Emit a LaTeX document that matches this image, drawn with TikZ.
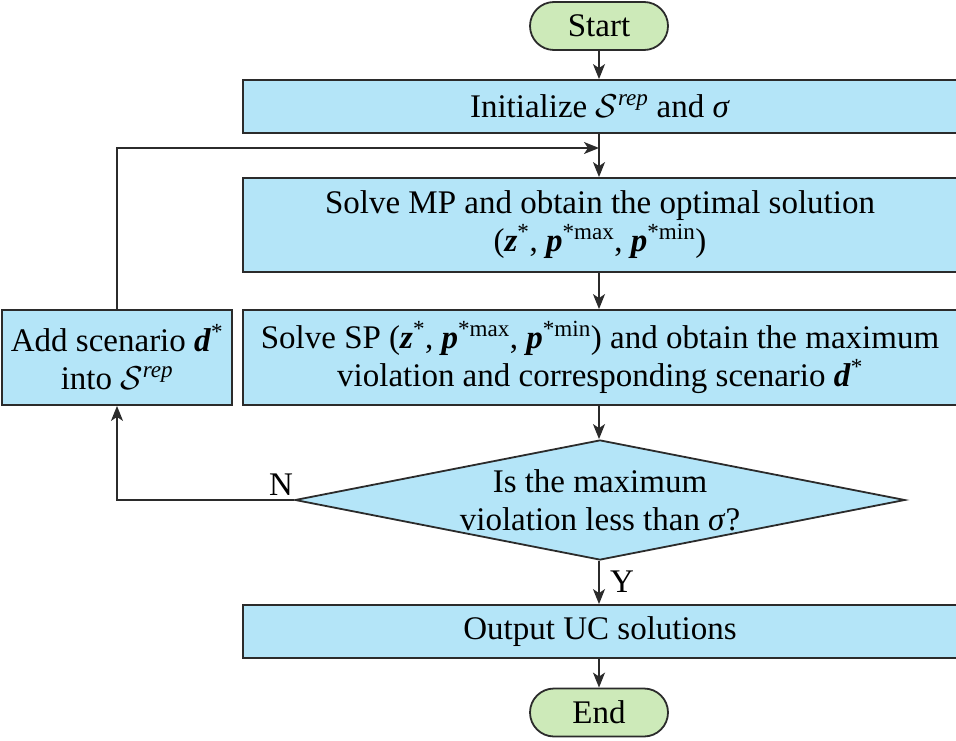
\documentclass[tikz,border=0pt]{standalone}
\usepackage{fix-cm}
\usepackage{fontspec}
\setmainfont{Liberation Serif}
\usetikzlibrary{arrows.meta,shapes.geometric}
\definecolor{boxblue}{RGB}{180,229,248}
\definecolor{pillgreen}{RGB}{205,234,185}
\definecolor{edge}{RGB}{43,43,43}
\newcommand{\bz}{\textbf{\textit{z}}}
\newcommand{\bp}{\textbf{\textit{p}}}
\newcommand{\bd}{\textbf{\textit{d}}}
\newcommand{\Srep}{$\mathcal{S}$\textsuperscript{\textit{rep}}}
\tikzset{
  every node/.style={font=\fontsize{33}{38}\selectfont, text=black},
  procbox/.style={draw=edge, line width=1.8pt, fill=boxblue, inner sep=0pt, align=center},
  pill/.style={draw=edge, line width=1.8pt, fill=pillgreen, rounded corners=24pt, minimum width=138pt, minimum height=48pt, inner sep=0pt},
  decision/.style={draw=edge, line width=1.8pt, fill=boxblue, diamond, minimum width=610pt, minimum height=120pt, inner sep=0pt},
  conn/.style={draw=edge, line width=1.8pt, -{Stealth[length=15pt,width=12pt,inset=4pt]}}
}
\begin{document}
\begin{tikzpicture}[x=1pt,y=-1pt]
\useasboundingbox (0,0) rectangle (956,741);
\node[pill] (start) at (599,26) {Start};
\node[procbox, minimum width=714pt, minimum height=53pt] (init) at (600,106.5) {Initialize \Srep{} and \textit{σ}};
\node[procbox, minimum width=714pt, minimum height=94pt] (mp) at (600,225) {Solve MP and obtain the optimal solution\\(\bz\textsuperscript{*}, \bp\textsuperscript{*max}, \bp\textsuperscript{*min})};
\node[procbox, minimum width=714pt, minimum height=95pt] (sp) at (600,357.5) {Solve SP (\bz\textsuperscript{*}, \bp\textsuperscript{*max}, \bp\textsuperscript{*min}) and obtain the maximum\\violation and corresponding scenario \bd\textsuperscript{*}};
\node[procbox, minimum width=230pt, minimum height=95pt] (add) at (117,357.5) {Add scenario \bd\textsuperscript{*}\\into \Srep};
\node[decision] (dec) at (600,500) {};
\node[align=center, inner sep=0pt] (dectext) at (600,500) {Is the maximum\\violation less than \textit{σ}?};
\node[procbox, minimum width=714pt, minimum height=53pt] (out) at (600,631.5) {Output UC solutions};
\node[pill] (end) at (599,712.5) {End};
\coordinate (join) at (599,148);
\draw[conn] (start) -- (start.south |- init.north);
\draw[conn] (init.south -| start) -- (mp.north -| start);
\draw[conn] (mp.south -| start) -- (sp.north -| start);
\draw[conn] (sp.south -| start) -- (dec.north -| start);
\draw[conn] (add.north) |- (join);
\draw[conn] (dec.west) -| (add.south);
\draw[conn] (dec.south -| start) -- (out.north -| start);
\draw[conn] (out.south -| start) -- (end.north);
\node[inner sep=0pt] (nlabel) at (281,485) {N};
\node[inner sep=0pt] (ylabel) at (622,582) {Y};
\end{tikzpicture}
\end{document}
